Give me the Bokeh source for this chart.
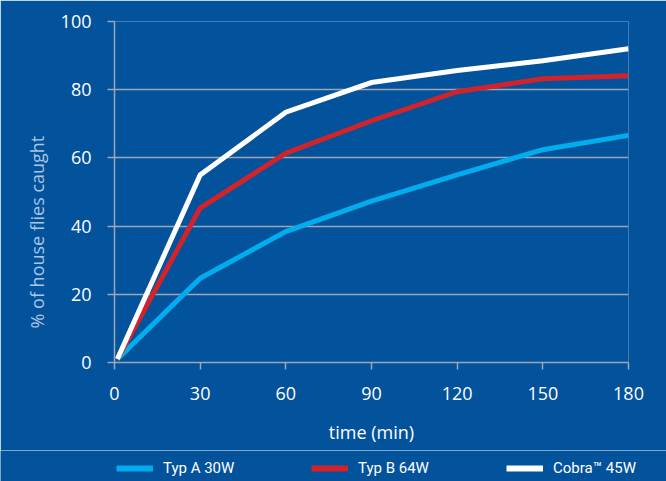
from bokeh.plotting import figure
from bokeh.models import Range1d, FixedTicker, Legend, LegendItem, Title
from bokeh.embed import file_html
from bokeh.resources import INLINE

time_min = [1, 30, 60, 90, 120, 150, 180]
typ_a = [1, 24.7, 38.4, 47.3, 55.0, 62.4, 66.6]
typ_b = [1, 45.3, 61.4, 70.9, 79.4, 83.2, 84.1]
cobra = [1, 55.0, 73.4, 82.1, 85.6, 88.5, 92.0]
x_ticks = [0, 30, 60, 90, 120, 150, 180]
y_ticks = [0, 20, 40, 60, 80, 100]
series_names = ["Typ A 30W", "Typ B 64W", "Cobra\u2122 45W"]

BG = "#03529c"
GRID = "#9ea7b3"
FONT = "Open Sans"
colors = ["#00aeef", "#d2232a", "white"]

p = figure(width=666, height=450, output_backend="svg", toolbar_location=None,
           x_range=Range1d(0, 180), y_range=Range1d(0, 100),
           min_border_left=114, min_border_right=38, min_border_top=21, min_border_bottom=88)
p.background_fill_color = BG
p.border_fill_color = BG
p.outline_line_color = None

p.xgrid.grid_line_color = None
p.ygrid.grid_line_color = GRID
p.ygrid.grid_line_width = 1.5
p.ygrid.ticker = FixedTicker(ticks=y_ticks)

for ax in (p.xaxis[0], p.yaxis[0]):
    ax.axis_line_color = GRID
    ax.axis_line_width = 1.5
    ax.major_tick_line_color = GRID
    ax.major_tick_line_width = 1.5
    ax.major_tick_in = 0
    ax.major_tick_out = 7
    ax.minor_tick_line_color = None
    ax.major_label_text_color = "white"
    ax.major_label_text_font = FONT
    ax.major_label_text_font_size = "18px"

p.xaxis.ticker = FixedTicker(ticks=x_ticks)
p.yaxis.ticker = FixedTicker(ticks=y_ticks)
p.yaxis.major_label_standoff = 16
p.xaxis.major_label_standoff = 17
p.xaxis.axis_label = "time (min)"
p.xaxis.axis_label_text_color = "white"
p.xaxis.axis_label_text_font = FONT
p.xaxis.axis_label_text_font_size = "18px"
p.xaxis.axis_label_text_font_style = "normal"
p.xaxis.axis_label_standoff = 17

ytitle = Title(text="% of house flies caught", align="left", offset=34,
               text_color="#a9c6e6", text_font=FONT, text_font_size="18px",
               text_font_style="normal", standoff=17)
p.add_layout(ytitle, "left")

for ys, c in zip([typ_a, typ_b, cobra], colors):
    p.line(time_min, ys, line_color=c, line_width=5, line_join="miter")

# legend strip below the chart (its own canvas so the legend is not clipped)
lg = figure(width=666, height=31, output_backend="svg", toolbar_location=None,
            x_range=Range1d(0, 180), y_range=Range1d(500, 600),
            min_border_left=0, min_border_right=0, min_border_top=0, min_border_bottom=0)
lg.background_fill_color = BG
lg.border_fill_color = BG
lg.outline_line_color = None
lg.xaxis.visible = False
lg.yaxis.visible = False
lg.grid.visible = False
proxies = [lg.line(time_min, ys, line_color=c, line_width=6)
           for ys, c in zip([typ_a, typ_b, cobra], colors)]

legend = Legend(items=[LegendItem(label=n, renderers=[r]) for n, r in zip(series_names, proxies)],
                orientation="horizontal", location=(116, 3),
                glyph_width=37, glyph_height=20, label_width=148, spacing=0,
                label_standoff=10, padding=0, margin=0,
                background_fill_alpha=0, border_line_color=None,
                label_text_color="white", label_text_font="Roboto",
                label_text_font_size="15px")
lg.add_layout(legend, "center")

html = file_html([p, lg], INLINE)
html = html.replace("<body>", '<body style="background-color: #03529c;">', 1)
open("out.html", "w").write(html)
